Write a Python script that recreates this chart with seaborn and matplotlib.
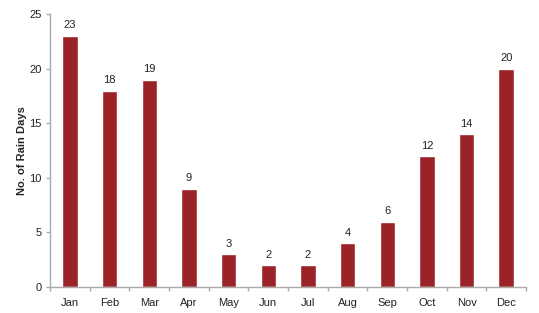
import matplotlib
matplotlib.use("Agg")
import matplotlib.pyplot as plt
import seaborn as sns
import numpy as np
import pandas as pd

months = ["Jan", "Feb", "Mar", "Apr", "May", "Jun", "Jul", "Aug", "Sep", "Oct", "Nov", "Dec"]
rain_days = [23, 18, 19, 9, 3, 2, 2, 4, 6, 12, 14, 20]
y_ticks = [0, 5, 10, 15, 20, 25]

sns.set_style("white")
plt.rcParams['font.family'] = ['Liberation Sans', 'DejaVu Sans']

df = pd.DataFrame({"month": months, "days": rain_days})

fig = plt.figure(figsize=(5.39, 3.13), dpi=100)
ax = fig.add_axes([0.093, 0.083, 0.883, 0.872])

sns.barplot(data=df, x="month", y="days", color="#9b2226", saturation=1,
            width=0.39, ax=ax)

for i, v in enumerate(rain_days):
    ax.text(i, v + 0.5, str(v), ha="center", va="bottom", fontsize=8, color="#222222")

ax.set_ylim(0, 25)
ax.set_xlim(-0.5, len(months) - 0.5)
ax.set_yticks(y_ticks)
ax.set_yticklabels([str(t) for t in y_ticks])
ax.set_xlabel("")
ax.set_ylabel("No. of Rain Days", fontsize=8, fontweight="bold", labelpad=2)

ax.set_xticks(np.arange(len(months)))
ax.set_xticklabels(months)
ax.set_xticks(np.arange(-0.5, len(months) + 0.5, 1), minor=True)
ax.tick_params(axis="x", which="major", bottom=True, length=0, pad=8, labelsize=8, colors="#222222")
ax.tick_params(axis="x", which="minor", bottom=True, length=3, color="#aaaaaa", width=1, direction="out")
ax.tick_params(axis="y", which="major", left=True, length=3, color="#aaaaaa", width=1, direction="out",
               labelsize=8, labelcolor="#222222", pad=3)

for s in ["top", "right"]:
    ax.spines[s].set_visible(False)
for s in ["left", "bottom"]:
    ax.spines[s].set_color("#aaaaaa")
    ax.spines[s].set_linewidth(1)

fig.savefig("out.png", dpi=100)
